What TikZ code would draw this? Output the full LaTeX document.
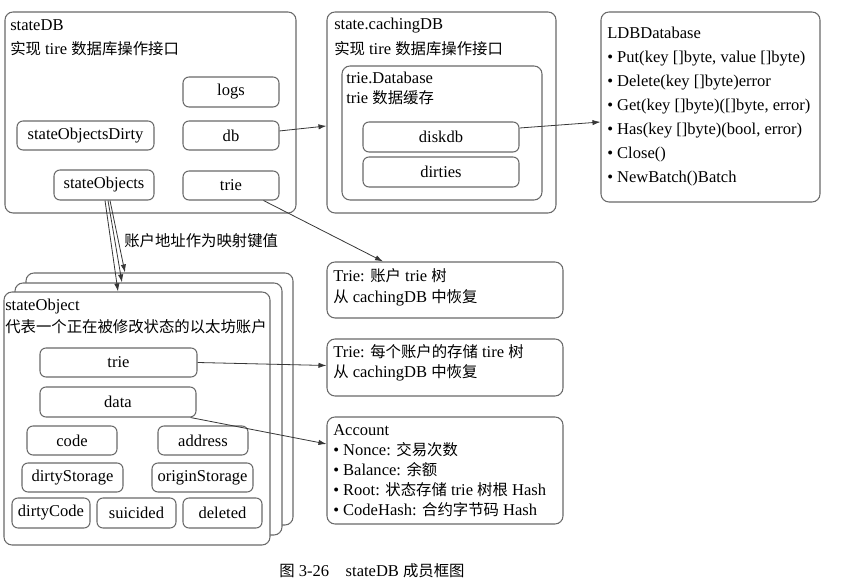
\documentclass[tikz,border=0pt]{standalone}
\usepackage{fontspec}
\setmainfont{Liberation Serif}
\newfontfamily\cjkfont[Scale=0.93]{Noto Sans CJK SC}
\newcommand\zh[1]{{\cjkfont #1}}
\usetikzlibrary{arrows.meta,fit,calc}
\definecolor{boxgray}{RGB}{105,105,105}
\definecolor{arrgray}{RGB}{55,55,55}
\begin{document}
\begin{tikzpicture}[x=0.75pt,y=-0.75pt,
  font=\fontsize{12.4pt}{14pt}\selectfont,
  bigbox/.style={draw=boxgray, line width=0.8pt, rounded corners=6pt, inner sep=0pt, fill=white},
  sbox/.style={draw=boxgray, line width=0.8pt, rounded corners=4.5pt, inner sep=0pt, label={[inner sep=0pt]center:#1}},
  txt/.style={anchor=base west, inner sep=0pt},
  arr/.style={draw=arrgray, line width=0.6pt, -{Latex[length=6pt,width=4pt]}}]
\useasboundingbox (0,0) rectangle (844,584);

% ---------- stateDB ----------
\node[bigbox, fit={(5,12)(296,213)}] (sdb) {};
\node[txt] (sdb1) at (10,31) {stateDB};
\node[txt] (sdb2) at (10,55) {\zh{实现} tire \zh{数据库操作接口}};
\node[sbox=logs, fit={(183,77)(279,107)}] (logs) {};
\node[sbox=db, fit={(183,121)(279,150)}] (db) {};
\node[sbox=trie, fit={(183,171)(279,200)}] (strie) {};
\node[sbox=stateObjectsDirty, fit={(17,121)(154,150)}] (sod) {};
\node[sbox=stateObjects, fit={(54,170)(154,200)}] (sos) {};

% ---------- state.cachingDB ----------
\node[bigbox, fit={(327,12)(556,213)}] (cdb) {};
\node[txt] (cdb1) at (334,30) {state.cachingDB};
\node[txt] (cdb2) at (334,55) {\zh{实现} tire \zh{数据库操作接口}};
\node[bigbox, fit={(342,66)(542,200)}] (tdb) {};
\node[txt] (tdb1) at (346,84) {trie.Database};
\node[txt] (tdb2) at (346,104) {trie \zh{数据缓存}};
\node[sbox=diskdb, fit={(363,122)(519,152)}] (diskdb) {};
\node[sbox=dirties, fit={(363,157)(519,187)}] (dirties) {};

% ---------- LDBDatabase ----------
\node[bigbox, fit={(601,12)(820,202)}] (ldb) {};
\node[txt] (l0) at (607,39) {LDBDatabase};
\node[txt] (l1) at (607,63) {• Put(key []byte, value []byte)};
\node[txt] (l2) at (607,87) {• Delete(key []byte)error};
\node[txt] (l3) at (607,111) {• Get(key []byte)([]byte, error)};
\node[txt] (l4) at (607,135) {• Has(key []byte)(bool, error)};
\node[txt] (l5) at (607,159) {• Close()};
\node[txt] (l6) at (607,183) {• NewBatch()Batch};

% ---------- stateObject stack ----------
\node[bigbox, fit={(26,273)(293,525)}] (so3) {};
\node[bigbox, fit={(15,283)(282,535)}] (so2) {};
\node[bigbox, fit={(4,292)(270,545)}] (so1) {};
\node[txt] (so1a) at (5,311) {stateObject};
\node[txt] (so1b) at (5,333) {\zh{代表一个正在被修改状态的以太坊账户}};
\node[sbox=trie, fit={(40,348)(197,377)}] (sotrie) {};
\node[sbox=data, fit={(40,387)(196,417)}] (data) {};
\node[sbox=code, fit={(27,426)(117,455)}] (code) {};
\node[sbox=address, fit={(158,426)(248,455)}] (address) {};
\node[sbox=dirtyStorage, fit={(22,463)(123,492)}] (dst) {};
\node[sbox=originStorage, fit={(152,463)(253,492)}] (ost) {};
\node[sbox=dirtyCode, fit={(12,498)(90,528)}] (dcode) {};
\node[sbox=suicided, fit={(97,498)(176,528)}] (suic) {};
\node[sbox=deleted, fit={(183,498)(262,528)}] (del) {};

% ---------- right-hand boxes ----------
\node[bigbox, fit={(327,262)(563,318)}] (t1) {};
\node[txt] (t1a) at (333,282) {Trie: \zh{账户} trie \zh{树}};
\node[txt] (t1b) at (333,303) {\zh{从} cachingDB \zh{中恢复}};
\node[bigbox, fit={(327,339)(563,396)}] (t2) {};
\node[txt] (t2a) at (333,358) {Trie: \zh{每个账户的存储} tire \zh{树}};
\node[txt] (t2b) at (333,378) {\zh{从} cachingDB \zh{中恢复}};
\node[bigbox, fit={(327,417)(563,524)}] (acc) {};
\node[txt] (a0) at (333,436) {Account};
\node[txt] (a1) at (333,456) {• Nonce: \zh{交易次数}};
\node[txt] (a2) at (333,476) {• Balance: \zh{余额}};
\node[txt] (a3) at (333,496) {• Root: \zh{状态存储} trie \zh{树根} Hash};
\node[txt] (a4) at (333,516) {• CodeHash: \zh{合约字节码} Hash};

% ---------- label & caption ----------
\node[txt] (lbl) at (124,247) {\zh{账户地址作为映射键值}};
\node[anchor=base, inner sep=0pt] (cap) at (372,577) {\zh{图} 3-26\quad stateDB \zh{成员框图}};

% ---------- connectors ----------
\draw[arr] ([yshift=3.4pt]db.east) -- ([yshift=-10.1pt]cdb.west);
\draw[arr] ([yshift=6.75pt]diskdb.east) -- ([yshift=-11.25pt]ldb.west);
\draw[arr] ([xshift=-12pt]strie.south east) -- ([xshift=-46.5pt]t1.north);
\draw[arr] (sotrie.east) -- ([yshift=1.5pt]t2.west);
\draw[arr] ([xshift=-4.5pt]data.south east) -- ([yshift=19.9pt]acc.west);
\draw[arr] ([xshift=0.75pt]sos.south) -- ([xshift=-14.25pt]so1.north);
\draw[arr] ([xshift=3pt]sos.south) -- ([xshift=-19.9pt]so2.north);
\draw[arr] ([xshift=4.5pt]sos.south) -- ([xshift=-25.9pt]so3.north);
\end{tikzpicture}
\end{document}
